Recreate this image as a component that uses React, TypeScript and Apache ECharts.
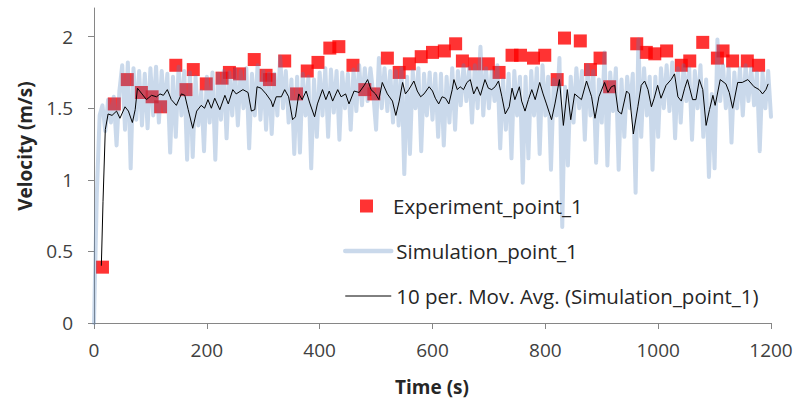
import React, { useEffect, useRef } from "react";
import * as echarts from "echarts";

// ---- Data ----
const experimentTime = [
  15, 36, 59, 84, 103, 118, 145, 163, 176, 199, 227, 240, 258, 284, 305, 311, 338, 359, 378, 397,
  418, 434, 459, 480, 496, 520, 541, 559, 580, 600, 621, 641, 653, 675, 699, 718, 741, 756, 779, 799,
  821, 834, 862, 880, 897, 914, 962, 979, 994, 1015, 1041, 1056, 1079, 1105, 1115, 1132, 1158, 1178,
];
const experimentVelocity = [
  0.39, 1.53, 1.70, 1.61, 1.58, 1.51, 1.80, 1.63, 1.77, 1.67, 1.71, 1.75, 1.74, 1.84, 1.73, 1.70, 1.83, 1.60, 1.76, 1.82,
  1.92, 1.93, 1.80, 1.63, 1.60, 1.85, 1.75, 1.81, 1.86, 1.89, 1.90, 1.95, 1.83, 1.81, 1.81, 1.75, 1.87, 1.87, 1.85, 1.87,
  1.70, 1.99, 1.97, 1.77, 1.85, 1.65, 1.95, 1.89, 1.88, 1.90, 1.80, 1.83, 1.96, 1.85, 1.90, 1.83, 1.83, 1.80,
];

// Simulation sampled every 5 s from 0 to 1200 s
const simStep = 5;
const simVelocity = [
  0.00, 0.90, 1.45, 1.52, 1.34, 1.56, 1.40, 1.58, 1.24, 1.62, 1.80, 1.35, 1.82, 1.08, 1.78, 1.42, 1.76, 1.38, 1.74, 1.36,
  1.78, 1.45, 1.79, 1.40, 1.76, 1.48, 1.74, 1.19, 1.72, 1.30, 1.79, 1.45, 1.76, 1.14, 1.75, 1.16, 1.72, 1.38, 1.62, 1.20,
  1.72, 1.40, 1.75, 1.14, 1.74, 1.42, 1.76, 1.29, 1.75, 1.45, 1.77, 1.38, 1.76, 1.50, 1.78, 1.22, 1.74, 1.45, 1.80, 1.42,
  1.76, 1.35, 1.74, 1.32, 1.74, 1.45, 1.86, 1.50, 1.76, 1.40, 1.70, 1.18, 1.72, 1.19, 1.74, 1.45, 1.72, 1.08, 1.70, 1.30,
  1.75, 1.45, 1.78, 1.30, 1.77, 1.47, 1.76, 1.28, 1.75, 1.50, 1.74, 1.35, 1.77, 1.48, 1.80, 1.52, 1.78, 1.55, 1.78, 1.60,
  1.35, 1.85, 1.50, 1.78, 1.48, 1.76, 1.40, 1.76, 1.38, 1.78, 1.04, 1.72, 1.18, 1.76, 1.50, 1.78, 1.20, 1.74, 1.45, 1.75,
  1.42, 1.74, 1.30, 1.74, 1.24, 1.72, 1.40, 1.78, 1.35, 1.76, 1.52, 1.80, 1.55, 1.78, 1.40, 1.80, 1.50, 1.93, 1.45, 1.78,
  1.50, 1.76, 1.55, 1.80, 1.22, 1.70, 1.35, 1.74, 1.15, 1.76, 1.45, 1.72, 0.98, 1.72, 1.15, 1.76, 1.45, 1.78, 1.18, 1.80,
  1.45, 1.72, 1.07, 1.70, 1.45, 1.85, 0.67, 1.65, 1.10, 1.72, 1.40, 1.78, 1.50, 1.76, 1.28, 1.80, 1.45, 1.76, 1.12, 1.70,
  1.40, 1.89, 1.10, 1.75, 1.48, 1.78, 1.07, 1.70, 1.30, 1.72, 1.50, 1.74, 0.91, 1.98, 1.30, 1.78, 1.45, 1.72, 1.07, 1.72,
  1.30, 1.78, 1.50, 1.80, 1.48, 1.82, 1.29, 1.78, 1.40, 1.80, 1.55, 1.78, 1.28, 1.76, 1.50, 1.80, 1.30, 1.70, 1.02, 1.60,
  1.08, 1.98, 1.55, 1.80, 1.50, 1.78, 1.26, 1.75, 1.50, 1.78, 1.45, 1.80, 1.55, 1.78, 1.52, 1.75, 1.20, 1.75, 1.50, 1.76,
  1.44,
];

// 10 period moving average
const avgTime = [
  13, 16, 20, 25, 32, 40, 46, 55, 61, 68, 73, 77, 85, 93, 102, 111, 117, 123, 130, 137,
  146, 155, 161, 167, 175, 182, 190, 196, 202, 208, 214, 223, 232, 238, 246, 252, 264, 273, 279, 285,
  289, 296, 305, 314, 317, 323, 332, 338, 345, 352, 357, 363, 369, 376, 383, 391, 396, 405, 411, 417,
  423, 432, 438, 446, 452, 461, 470, 479, 485, 491, 499, 505, 511, 520, 529, 535, 541, 547, 552, 558,
  567, 573, 579, 585, 594, 600, 605, 611, 617, 623, 629, 635, 638, 644, 649, 655, 661, 667, 673, 679,
  685, 693, 699, 705, 711, 717, 723, 729, 736, 741, 746, 754, 758, 764, 770, 776, 782, 790, 796, 802,
  811, 817, 825, 832, 839, 845, 852, 858, 864, 873, 882, 888, 895, 905, 911, 917, 923, 929, 935, 944,
  949, 956, 964, 970, 976, 982, 988, 993, 999, 1005, 1014, 1023, 1029, 1035, 1041, 1047, 1052, 1061, 1067, 1073,
  1079, 1085, 1091, 1097, 1101, 1110, 1120, 1126, 1132, 1141, 1149, 1159, 1170, 1179, 1185, 1191, 1195,
];
const avgVelocity = [
  0.40, 0.85, 1.35, 1.46, 1.45, 1.48, 1.43, 1.51, 1.48, 1.40, 1.49, 1.64, 1.60, 1.56, 1.59, 1.58, 1.60, 1.59, 1.63, 1.56,
  1.52, 1.60, 1.59, 1.49, 1.36, 1.48, 1.52, 1.50, 1.56, 1.50, 1.57, 1.49, 1.59, 1.53, 1.63, 1.60, 1.63, 1.61, 1.48, 1.49,
  1.65, 1.64, 1.60, 1.55, 1.51, 1.58, 1.58, 1.63, 1.58, 1.42, 1.44, 1.60, 1.56, 1.62, 1.53, 1.44, 1.53, 1.63, 1.56, 1.62,
  1.55, 1.63, 1.58, 1.60, 1.53, 1.62, 1.61, 1.66, 1.70, 1.63, 1.60, 1.56, 1.68, 1.60, 1.55, 1.45, 1.55, 1.68, 1.60, 1.63,
  1.69, 1.62, 1.58, 1.60, 1.65, 1.62, 1.57, 1.53, 1.58, 1.57, 1.53, 1.63, 1.70, 1.63, 1.65, 1.63, 1.68, 1.70, 1.60, 1.65,
  1.59, 1.70, 1.64, 1.63, 1.65, 1.69, 1.58, 1.46, 1.51, 1.64, 1.56, 1.65, 1.55, 1.48, 1.56, 1.63, 1.56, 1.68, 1.60, 1.53,
  1.42, 1.53, 1.70, 1.38, 1.63, 1.42, 1.60, 1.58, 1.56, 1.69, 1.58, 1.43, 1.58, 1.68, 1.61, 1.65, 1.66, 1.48, 1.46, 1.62,
  1.60, 1.32, 1.51, 1.66, 1.69, 1.63, 1.51, 1.57, 1.66, 1.57, 1.66, 1.70, 1.74, 1.58, 1.55, 1.64, 1.70, 1.56, 1.56, 1.70,
  1.63, 1.38, 1.49, 1.59, 1.52, 1.70, 1.67, 1.61, 1.50, 1.68, 1.68, 1.70, 1.65, 1.63, 1.60, 1.63, 1.67,
];

const xTicks = [0, 200, 400, 600, 800, 1000, 1200];
const yTicks = [0, 0.5, 1, 1.5, 2];

const seriesNames = [
  "Experiment_point_1",
  "Simulation_point_1",
  "10 per. Mov. Avg. (Simulation_point_1)",
];

const FONT = "'Open Sans', 'Liberation Sans', sans-serif";
const TEXT = "#404040";
const AXIS = "#868686";
const SIM_COLOR = "rgba(79,129,189,0.3)";

export default function App() {
  const ref = useRef<HTMLDivElement>(null);

  useEffect(() => {
    if (!ref.current) return;
    const chart = echarts.init(ref.current, null, { renderer: "svg" });

    const expData = experimentTime.map((t, i) => [t, experimentVelocity[i]]);
    const simData = simVelocity.map((v, i) => [i * simStep, v]);
    const avgData = avgTime.map((t, i) => [t, avgVelocity[i]]);

    chart.setOption({
      animation: false,
      backgroundColor: "#ffffff",
      textStyle: { fontFamily: FONT },
      grid: { left: 94, right: 28, top: 8, bottom: 80, containLabel: false },
      xAxis: {
        type: "value",
        min: 0,
        max: 1200,
        interval: 200,
        axisLine: { show: true, lineStyle: { color: AXIS, width: 1 } },
        axisTick: { show: true, inside: false, length: 6, lineStyle: { color: AXIS } },
        axisLabel: {
          color: TEXT,
          fontSize: 19,
          fontFamily: FONT,
          margin: 17,
          customValues: xTicks,
          formatter: (v: number) => String(v),
        },
        splitLine: { show: false },
      },
      yAxis: {
        type: "value",
        min: 0,
        max: 2.2,
        interval: 0.5,
        axisLine: { show: true, lineStyle: { color: AXIS, width: 1 } },
        axisTick: { show: true, inside: false, length: 6, lineStyle: { color: AXIS }, customValues: yTicks },
        axisLabel: {
          color: TEXT,
          fontSize: 19,
          fontFamily: FONT,
          margin: 21,
          customValues: yTicks,
          formatter: (v: number) => String(v),
        },
        splitLine: { show: false },
      },
      legend: [
        {
          data: [{ name: seriesNames[0], icon: "rect" }],
          left: 360,
          top: 194,
          padding: 0,
          itemWidth: 13,
          itemHeight: 13,
          textStyle: { color: "#262626", fontSize: 20.5, fontFamily: FONT, lineHeight: 24, padding: [0, 0, 0, 15] },
        },
        {
          data: [
            { name: seriesNames[1], lineStyle: { width: 4.5, color: SIM_COLOR, cap: "round" } },
            { name: seriesNames[2], lineStyle: { width: 1, color: "#000000" } },
          ],
          orient: "vertical",
          left: 343,
          top: 239,
          padding: 0,
          itemWidth: 46,
          itemHeight: 14,
          itemGap: 21,
          itemStyle: { color: "rgba(0,0,0,0)", borderWidth: 0, opacity: 0 },
          textStyle: { color: "#262626", fontSize: 20.5, fontFamily: FONT, lineHeight: 24 },
        },
      ],
      series: [
        {
          name: seriesNames[0],
          type: "scatter",
          data: expData,
          symbol: "rect",
          symbolSize: 13,
          itemStyle: { color: "#ff0000" },
          z: 2,
        },
        {
          name: seriesNames[1],
          type: "line",
          data: simData,
          showSymbol: false,
          symbol: "none",
          lineStyle: { color: SIM_COLOR, width: 4, cap: "round", join: "round" },
          itemStyle: { color: SIM_COLOR },
          z: 3,
        },
        {
          name: seriesNames[2],
          type: "line",
          data: avgData,
          showSymbol: false,
          symbol: "none",
          lineStyle: { color: "#000000", width: 1 },
          itemStyle: { color: "#000000" },
          z: 4,
        },
      ],
      graphic: [
        {
          type: "text",
          x: 25,
          y: 146,
          rotation: Math.PI / 2,
          style: {
            text: "Velocity (m/s)",
            font: `bold 19px ${FONT}`,
            fill: "#262626",
            textAlign: "center",
            textVerticalAlign: "middle",
          },
        },
        {
          type: "text",
          x: 432,
          y: 387,
          style: {
            text: "Time (s)",
            font: `bold 19px ${FONT}`,
            fill: "#262626",
            textAlign: "center",
            textVerticalAlign: "middle",
          },
        },
      ],
    });

    return () => chart.dispose();
  }, []);

  return (
    <div
      ref={ref}
      style={{ position: "fixed", left: 0, top: 0, width: 799, height: 403, background: "#fff" }}
    />
  );
}
